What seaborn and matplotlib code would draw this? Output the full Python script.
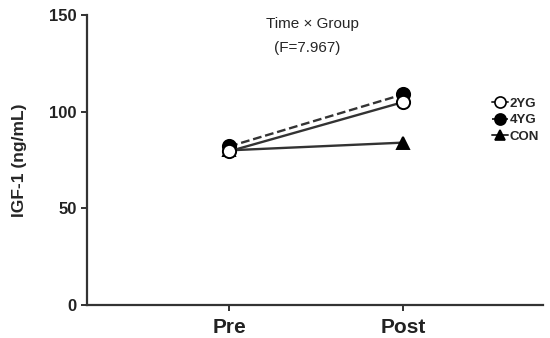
import matplotlib
matplotlib.use("Agg")
import matplotlib.pyplot as plt
import seaborn as sns
import pandas as pd
from matplotlib.lines import Line2D

times = ["Pre", "Post"]
groups = ["2YG", "4YG", "CON"]
iGF_2yg = [79.5, 105.0]
iGF_4yg = [82.0, 109.0]
iGF_con = [80.0, 84.0]

sns.set_theme(style="ticks")
plt.rcParams["font.family"] = ["Liberation Sans", "DejaVu Sans"]
plt.rcParams["font.weight"] = "bold"

df = pd.DataFrame({
    "time": times * 3,
    "group": [g for g in groups for _ in times],
    "value": iGF_2yg + iGF_4yg + iGF_con,
})

fig = plt.figure(figsize=(5.5, 3.38), dpi=100)
ax = fig.add_axes([0.158, 0.0976, 0.829, 0.858])

line_col = "#333333"
styles = {
    "2YG": dict(marker="o", markerfacecolor="white", linestyle="-", markersize=9.5),
    "4YG": dict(marker="o", markerfacecolor="black", linestyle="--", markersize=9.5),
    "CON": dict(marker="^", markerfacecolor="black", linestyle="-", markersize=8),
}
# draw CON and 4YG first so open circles sit on top
for g in ["CON", "4YG", "2YG"]:
    sub = df[df["group"] == g]
    st = styles[g]
    sns.lineplot(data=sub, x="time", y="value", ax=ax, color=line_col, lw=1.7,
                 marker=st["marker"], markersize=st["markersize"],
                 markerfacecolor=st["markerfacecolor"], markeredgecolor="black",
                 markeredgewidth=1.4, linestyle=st["linestyle"], label=g,
                 legend=False)

ax.set_xlim(-0.816, 1.8)
ax.set_ylim(0, 150)
ax.set_yticks([0, 50, 100, 150])
ax.set_xlabel("")
ax.set_ylabel("IGF-1 (ng/mL)", fontsize=12.5, fontweight="bold", labelpad=16)
ax.tick_params(axis="y", labelsize=12, length=4, width=1.3, colors="#222")
ax.tick_params(axis="x", labelsize=15, length=4, width=1.3, colors="#222", pad=5)
for lab in ax.get_xticklabels() + ax.get_yticklabels():
    lab.set_fontweight("bold")
sns.despine(ax=ax)
for s in ["left", "bottom"]:
    ax.spines[s].set_linewidth(1.6)
    ax.spines[s].set_color("#333")

ax.text(0.48, 145.5, "Time × Group", fontsize=11, fontweight="normal", ha="center", va="center")
ax.text(0.45, 133, "(F=7.967)", fontsize=11, fontweight="normal", ha="center", va="center")

handles = []
for g in groups:
    st = styles[g]
    handles.append(Line2D([], [], color=line_col, lw=1.4, linestyle=st["linestyle"],
                          marker=st["marker"], markersize=st["markersize"] - 1.5,
                          markerfacecolor=st["markerfacecolor"], markeredgecolor="black",
                          markeredgewidth=1.2, label=g))
leg = ax.legend(handles=handles, loc="upper left", bbox_to_anchor=(0.875, 0.737),
                frameon=False, fontsize=9.5, handlelength=1.2, handletextpad=0.1,
                labelspacing=0.3, borderpad=0)
for t in leg.get_texts():
    t.set_fontweight("bold")

fig.savefig("out.png", dpi=100)
